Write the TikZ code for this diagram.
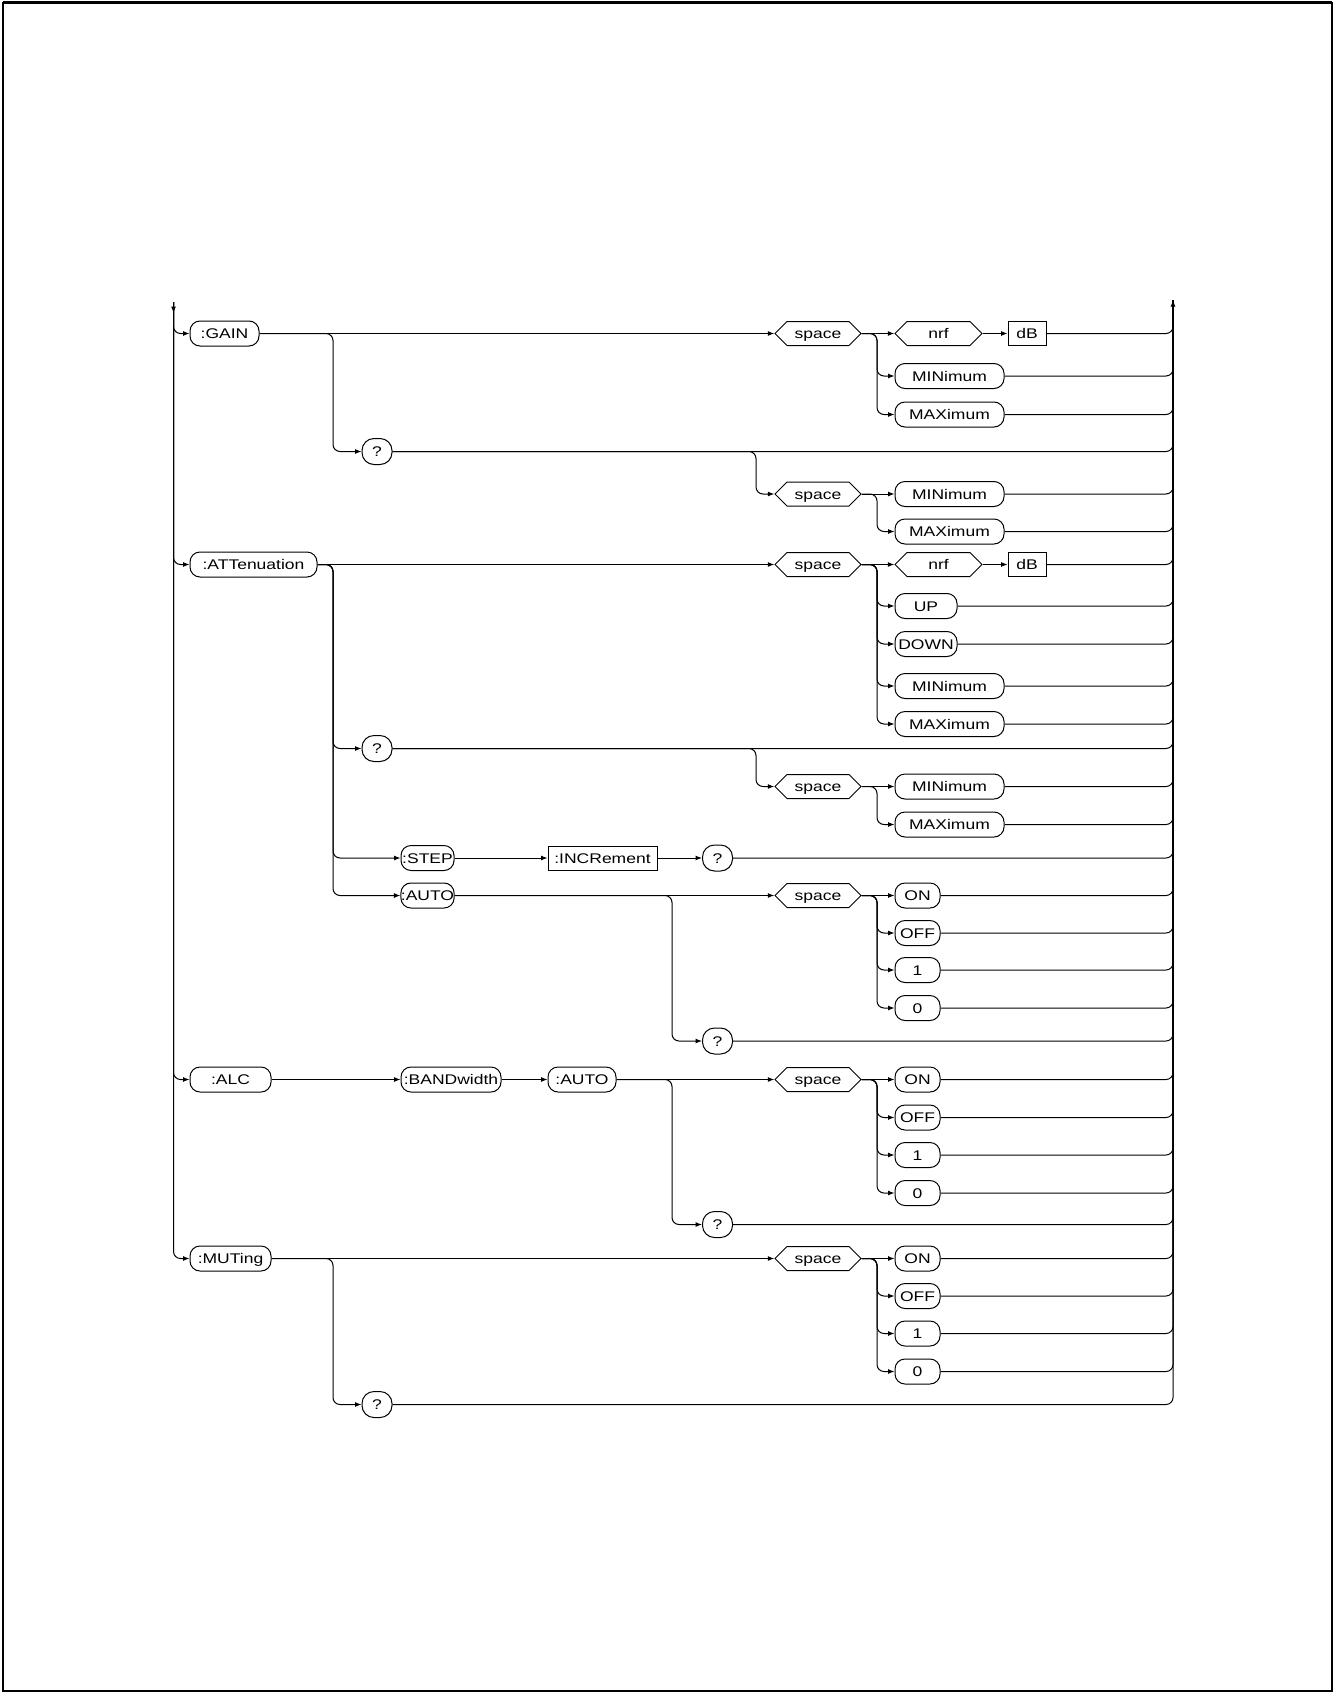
\documentclass[tikz,border=0pt]{standalone}
\usepackage{fontspec}
\setmainfont[FakeStretch=1.25]{Liberation Sans}
\usetikzlibrary{arrows.meta,shapes.symbols,calc}
\begin{document}
\begin{tikzpicture}[x=1pt,y=-1pt,
  line width=1pt,
  every node/.style={font=\fontsize{14}{16}\selectfont, inner sep=0pt, text height=10pt, text depth=0pt},
  kw/.style={draw, rectangle, rounded corners=10pt, minimum height=25pt, minimum width=#1},
  qm/.style={draw, rectangle, rounded corners=12pt, minimum height=26pt, minimum width=30pt},
  hexa/.style={draw, signal, signal to=west and east, minimum height=24pt, minimum width=#1},
  sqbox/.style={draw, rectangle, minimum height=24pt, minimum width=#1},
  ln/.style={line width=1pt, rounded corners=7pt},
  arr/.style={ln, -{Latex[length=6.5pt,width=5pt]}}
]
\useasboundingbox (0,0) rectangle (1335,1694);
\draw[line width=1.8pt] (3,3) rectangle (1332,1691);
\draw[line width=3pt] (3,3) -- (1332,3);

\coordinate (Ltop) at (173.5,302);
\coordinate (Rtop) at (1173,300);
\coordinate (bA) at (333,0);
\coordinate (bB) at (672,0);
\coordinate (bC) at (756,0);
\coordinate (bD) at (877,0);

% ---------- GAIN ----------
\node[kw=69pt] (gain) at (224.5,333.5) {:GAIN};
\node[hexa=86pt] (gsp) at (818,333.5) {space};
\node[hexa=87pt] (gnrf) at (938.5,333.5) {nrf};
\node[sqbox=38pt] (gdb) at (1027,333.5) {dB};
\node[kw=109pt] (gmin) at (949.5,376) {MINimum};
\node[kw=109pt] (gmax) at (949.5,414.5) {MAXimum};
\node[qm] (gq) at (377,451.5) {?};
\node[hexa=86pt] (gsp2) at (818,494) {space};
\node[kw=109pt] (gmin2) at (949.5,494) {MINimum};
\node[kw=109pt] (gmax2) at (949.5,531.5) {MAXimum};

% ---------- ATTenuation ----------
\node[kw=127pt] (att) at (253.5,564.5) {:ATTenuation};
\node[hexa=86pt] (asp) at (818,564.5) {space};
\node[hexa=87pt] (anrf) at (938.5,564.5) {nrf};
\node[sqbox=38pt] (adb) at (1027,564.5) {dB};
\node[kw=62pt] (aup) at (926,606) {UP};
\node[kw=62pt] (adown) at (926,644) {DOWN};
\node[kw=109pt] (amin) at (949.5,686) {MINimum};
\node[kw=109pt] (amax) at (949.5,724) {MAXimum};
\node[qm] (aq) at (377,748.5) {?};
\node[hexa=86pt] (asp2) at (818,786.5) {space};
\node[kw=109pt] (amin2) at (949.5,786.5) {MINimum};
\node[kw=109pt] (amax2) at (949.5,824.5) {MAXimum};
\node[kw=53pt] (step) at (427.5,858) {:STEP};
\node[sqbox=109pt] (incr) at (602.5,858) {:INCRement};
\node[qm] (sq3) at (717.5,858) {?};
\node[kw=53pt] (auto) at (427.5,895.5) {:AUTO};
\node[hexa=86pt] (ausp) at (818,895.5) {space};
\node[kw=45pt] (auon) at (917.5,895.5) {ON};
\node[kw=45pt] (auoff) at (917.5,933) {OFF};
\node[kw=45pt] (auone) at (917.5,970) {1};
\node[kw=45pt] (auzero) at (917.5,1008) {0};
\node[qm] (auq) at (717.5,1041) {?};

% ---------- ALC ----------
\node[kw=81pt] (alc) at (230.5,1079.5) {:ALC};
\node[kw=100pt] (band) at (451,1079.5) {:BANDwidth};
\node[kw=68pt] (alcauto) at (582,1079.5) {:AUTO};
\node[hexa=86pt] (lsp) at (818,1079.5) {space};
\node[kw=45pt] (lon) at (917.5,1079.5) {ON};
\node[kw=45pt] (loff) at (917.5,1117.5) {OFF};
\node[kw=45pt] (lone) at (917.5,1155) {1};
\node[kw=45pt] (lzero) at (917.5,1193) {0};
\node[qm] (lq) at (717.5,1224.5) {?};

% ---------- MUTing ----------
\node[kw=81pt] (mut) at (230.5,1258.5) {:MUTing};
\node[hexa=86pt] (msp) at (818,1258.5) {space};
\node[kw=45pt] (mon) at (917.5,1258.5) {ON};
\node[kw=45pt] (moff) at (917.5,1296) {OFF};
\node[kw=45pt] (mone) at (917.5,1333.5) {1};
\node[kw=45pt] (mzero) at (917.5,1371.5) {0};
\node[qm] (mq) at (377,1404.5) {?};

% ---------- left rail ----------
\draw[arr] (Ltop) |- (mut.west);
\foreach \n in {gain,att,alc} \draw[arr] (Ltop) |- (\n.west);
\draw[-{Latex[length=6.5pt,width=5pt]}] (Ltop) -- ++(0,11);

% ---------- right rail ----------
\draw[arr] (mq.east) -| (Rtop);
\foreach \n in {gdb,gmin,gmax,gq,gmin2,gmax2,adb,aup,adown,amin,amax,aq,amin2,amax2,sq3,auon,auoff,auone,auzero,auq,lon,loff,lone,lzero,lq,mon,moff,mone,mzero}
  \draw[ln] (\n.east) -| (Rtop);

% ---------- GAIN connectors ----------
\draw[arr] (gain.east) -- (gsp.west);
\draw[arr] (gain.east) -| (bA |- gq) -- (gq.west);
\draw[arr] (gsp.east) -- (gnrf.west);
\draw[arr] (gnrf.east) -- (gdb.west);
\foreach \n in {gmin,gmax} \draw[arr] (gsp.east) -| (bD |- \n) -- (\n.west);
\draw[arr] (gq.east) -| (bC |- gsp2) -- (gsp2.west);
\draw[arr] (gsp2.east) -- (gmin2.west);
\draw[arr] (gsp2.east) -| (bD |- gmax2) -- (gmax2.west);

% ---------- ATT connectors ----------
\draw[arr] (att.east) -- (asp.west);
\foreach \n in {aq,step,auto} \draw[arr] (att.east) -| (bA |- \n) -- (\n.west);
\draw[arr] (asp.east) -- (anrf.west);
\draw[arr] (anrf.east) -- (adb.west);
\foreach \n in {aup,adown,amin,amax} \draw[arr] (asp.east) -| (bD |- \n) -- (\n.west);
\draw[arr] (aq.east) -| (bC |- asp2) -- (asp2.west);
\draw[arr] (asp2.east) -- (amin2.west);
\draw[arr] (asp2.east) -| (bD |- amax2) -- (amax2.west);
\draw[arr] (step.east) -- (incr.west);
\draw[arr] (incr.east) -- (sq3.west);
\draw[arr] (auto.east) -- (ausp.west);
\draw[arr] (auto.east) -| (bB |- auq) -- (auq.west);
\draw[arr] (ausp.east) -- (auon.west);
\foreach \n in {auoff,auone,auzero} \draw[arr] (ausp.east) -| (bD |- \n) -- (\n.west);

% ---------- ALC connectors ----------
\draw[arr] (alc.east) -- (band.west);
\draw[arr] (band.east) -- (alcauto.west);
\draw[arr] (alcauto.east) -- (lsp.west);
\draw[arr] (alcauto.east) -| (bB |- lq) -- (lq.west);
\draw[arr] (lsp.east) -- (lon.west);
\foreach \n in {loff,lone,lzero} \draw[arr] (lsp.east) -| (bD |- \n) -- (\n.west);

% ---------- MUTing connectors ----------
\draw[arr] (mut.east) -- (msp.west);
\draw[arr] (mut.east) -| (bA |- mq) -- (mq.west);
\draw[arr] (msp.east) -- (mon.west);
\foreach \n in {moff,mone,mzero} \draw[arr] (msp.east) -| (bD |- \n) -- (\n.west);
\end{tikzpicture}
\end{document}
